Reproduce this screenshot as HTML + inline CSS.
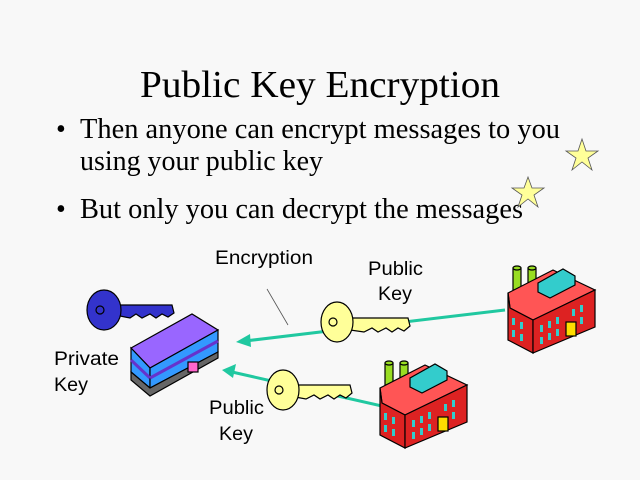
<!DOCTYPE html>
<html><head><style>body{margin:0;background:#f8f8f8}svg{display:block}</style></head><body>
<svg width="640" height="480" viewBox="0 0 640 480" xmlns="http://www.w3.org/2000/svg">
<rect width="640" height="480" fill="#f8f8f8"/>
<g font-family="Liberation Serif, serif" fill="#000">
<text x="140" y="97" font-size="38" textLength="360" lengthAdjust="spacingAndGlyphs">Public Key Encryption</text>
<text x="56" y="138" font-size="28">•</text>
<text x="80" y="138" font-size="28" textLength="480" lengthAdjust="spacingAndGlyphs">Then anyone can encrypt messages to you</text>
<text x="80" y="170" font-size="28" textLength="243" lengthAdjust="spacingAndGlyphs">using your public key</text>
<text x="56" y="218" font-size="28">•</text>
<text x="80" y="218" font-size="28" textLength="443" lengthAdjust="spacingAndGlyphs">But only you can decrypt the messages</text>
</g>
<g fill="#ffff99" stroke="#555" stroke-width="0.8">
<polygon points="582,139 586,151 598,151 588,158 592,170 582,162 572,170 576,158 566,151 578,151"/>
<polygon points="528,177 532,188 544,188 534,195 538,207 528,199 518,207 522,195 512,188 524,188"/>
</g>
<g font-family="Liberation Sans, sans-serif" font-size="19" fill="#000">
<text x="215" y="264" textLength="98" lengthAdjust="spacingAndGlyphs">Encryption</text>
<text x="368" y="275" textLength="55" lengthAdjust="spacingAndGlyphs">Public</text><text x="378" y="300" textLength="34" lengthAdjust="spacingAndGlyphs">Key</text>
<text x="54" y="365" textLength="65" lengthAdjust="spacingAndGlyphs">Private</text><text x="54" y="391" textLength="34" lengthAdjust="spacingAndGlyphs">Key</text>
<text x="209" y="414" textLength="55" lengthAdjust="spacingAndGlyphs">Public</text><text x="219" y="440" textLength="34" lengthAdjust="spacingAndGlyphs">Key</text>
</g>
<line x1="267" y1="289" x2="288" y2="325" stroke="#555" stroke-width="0.8"/>
<g stroke="#20c8a0" stroke-width="3" fill="#20c8a0">
<line x1="505" y1="310" x2="245" y2="341"/>
<polygon points="236,342 250,334 251,347" stroke="none"/>
<line x1="382" y1="406" x2="232" y2="372"/>
<polygon points="222,370 236,364 233,378" stroke="none"/>
</g>
<g fill="#3333cc" stroke="#000" stroke-width="1.2">
<path d="M120,305 L172,305 L174,313 L168,317 L162,314 L156,318 L150,314 L142,318 L136,314 L130,318 L120,316Z"/>
<ellipse cx="104" cy="310" rx="17" ry="20"/>
<circle cx="100" cy="310" r="4" fill="#3333cc"/>
</g>
<g fill="#ffff99" stroke="#000" stroke-width="1.2">
<path d="M350,318 L408,318 L410,326 L404,331 L398,328 L392,332 L386,328 L378,332 L372,328 L364,332 L350,330Z"/>
<ellipse cx="337" cy="322" rx="16" ry="20"/>
<circle cx="333" cy="322" r="4"/>
<path d="M295,385 L350,385 L352,393 L346,398 L340,395 L334,399 L328,395 L320,399 L314,395 L306,399 L295,397Z"/>
<ellipse cx="283" cy="390" rx="16" ry="20"/>
<circle cx="279" cy="390" r="4"/>
</g>
<g stroke="#000" stroke-width="1.2">
<polygon points="131,348 192,314 218,330 150,368" fill="#9966ff"/>
<polygon points="131,348 150,368 150,388 131,372" fill="#3399ff"/>
<polygon points="150,368 218,330 218,352 150,388" fill="#3399ff"/>
<polygon points="131,372 150,388 218,352 218,358 150,396 131,380" fill="#666"/>
<line x1="131" y1="360" x2="150" y2="378" stroke="#6633cc" stroke-width="3"/>
<line x1="150" y1="378" x2="218" y2="341" stroke="#6633cc" stroke-width="3"/>
<rect x="188" y="362" width="10" height="10" fill="#ff66cc"/>
</g>
<g id="f">
<g stroke="#000" stroke-width="1.2">
<rect x="513" y="268" width="8" height="22" fill="#99dd22"/><ellipse cx="517" cy="268" rx="4" ry="2" fill="#99dd22"/>
<rect x="528" y="268" width="8" height="22" fill="#99dd22"/><ellipse cx="532" cy="268" rx="4" ry="2" fill="#99dd22"/>
<polygon points="508,293 553,270 595,290 533,320 510,308" fill="#ff5555"/>
<polygon points="508,293 508,340 533,353 533,320 510,308" fill="#dd2222"/>
<polygon points="533,320 595,290 595,327 533,353" fill="#dd2222"/>
<polygon points="538,283 563,269 575,276 575,285 550,298 538,292" fill="#33cccc"/>
<rect x="566" y="322" width="10" height="14" fill="#ffdd00"/>
</g>
<g fill="#33cccc">
<rect x="540" y="325" width="3" height="7"/><rect x="548" y="321" width="3" height="7"/><rect x="556" y="317" width="3" height="7"/><rect x="572" y="309" width="3" height="7"/><rect x="580" y="305" width="3" height="7"/>
<rect x="540" y="337" width="3" height="7"/><rect x="548" y="333" width="3" height="7"/><rect x="556" y="329" width="3" height="7"/><rect x="580" y="317" width="3" height="7"/>
<rect x="512" y="318" width="3" height="7"/><rect x="520" y="322" width="3" height="7"/><rect x="512" y="330" width="3" height="7"/><rect x="520" y="334" width="3" height="7"/>
</g>
</g>
<use href="#f" transform="translate(-128,95)"/>
</svg>
</body></html>
